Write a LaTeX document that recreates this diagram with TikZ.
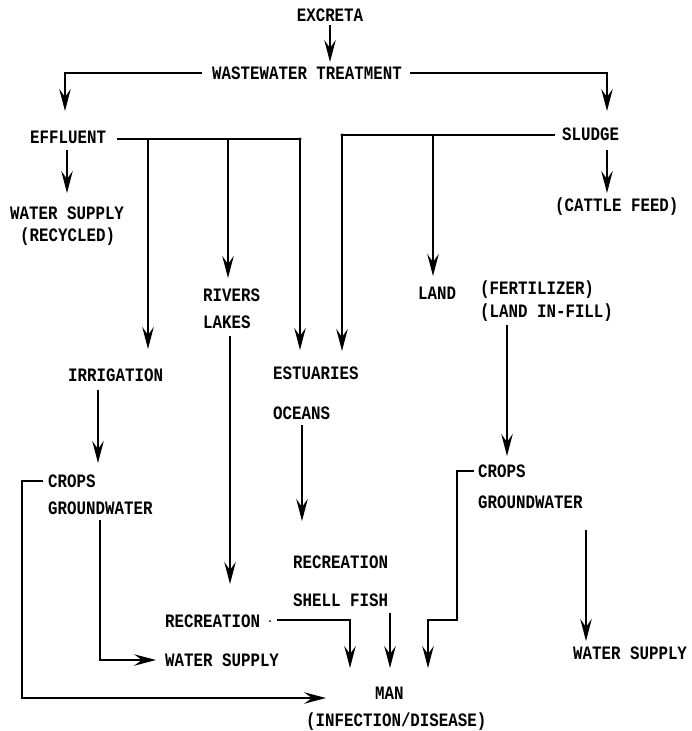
\documentclass[tikz,border=0pt]{standalone}
\usepackage{fontspec}
\setmainfont{Liberation Mono}
\usetikzlibrary{arrows.meta}
\newcommand{\tall}[1]{\scalebox{1}[1.2]{#1}}
\begin{document}
\begin{tikzpicture}[x=1pt,y=-1pt,
  lbl/.style={anchor=west,inner sep=0pt,font=\fontsize{15.8}{18}\selectfont\bfseries},
  ln/.style={line width=1.4pt},
  ar/.style={line width=1.4pt,-{Stealth[length=22pt,width=11.5pt,inset=8pt]}}]
\useasboundingbox (0,0) rectangle (692,731);
% nodes
\node[lbl,anchor=center] (excreta) at (330,15) {\tall{EXCRETA}};
\node[lbl] (wwt) at (212,73) {\tall{WASTEWATER TREATMENT}};
\node[lbl] (effluent) at (30,137) {\tall{EFFLUENT}};
\node[lbl] (sludge) at (562,134) {\tall{SLUDGE}};
\node[lbl] (wsr) at (10,213) {\tall{WATER SUPPLY}};
\node[lbl] (recyc) at (20,237) {\tall{(RECYCLED)}};
\node[lbl] (cattle) at (555,207) {\tall{(CATTLE FEED)}};
\node[lbl] (rivers) at (203,295) {\tall{RIVERS}};
\node[lbl] (lakes) at (203,322) {\tall{LAKES}};
\node[lbl] (land) at (418,293) {\tall{LAND}};
\node[lbl] (fert) at (480,290) {\tall{(FERTILIZER)}};
\node[lbl] (infill) at (480,313) {\tall{(LAND IN-FILL)}};
\node[lbl] (irrig) at (68,375) {\tall{IRRIGATION}};
\node[lbl] (estu) at (273,373) {\tall{ESTUARIES}};
\node[lbl] (oceans) at (273,413) {\tall{OCEANS}};
\node[lbl] (cropsL) at (48,481) {\tall{CROPS}};
\node[lbl] (gwL) at (48,508) {\tall{GROUNDWATER}};
\node[lbl] (recM) at (293,562) {\tall{RECREATION}};
\node[lbl] (shell) at (293,600) {\tall{SHELL FISH}};
\node[lbl] (recL) at (165,621) {\tall{RECREATION}};
\node[lbl] (wsL) at (165,660) {\tall{WATER SUPPLY}};
\node[lbl] (cropsR) at (478,471) {\tall{CROPS}};
\node[lbl] (gwR) at (478,502) {\tall{GROUNDWATER}};
\node[lbl] (wsR) at (573,653) {\tall{WATER SUPPLY}};
\node[lbl] (man) at (375,693) {\tall{MAN}};
\node[lbl] (infect) at (306,722) {\tall{(INFECTION/DISEASE)}};
% junction coordinates
\coordinate (eL) at (117,139);
\coordinate (e1) at (148,139);
\coordinate (e2) at (228,139);
\coordinate (e3) at (300,139);
\coordinate (s0) at (555,135);
\coordinate (s1) at (342,135);
\coordinate (s2) at (433,135);
% connectors
\draw[ar] (330,25) -- (330,62);
\draw[ar] (wwt.west) ++(-10,0) -| (65,111);
\draw[ar] (wwt.east) ++(8,0) -| (607,111);
\draw[ln] (eL) -- (e3);
\fill (e3) circle (1.6pt);
\draw[ar] (67,150) -- (67,193);
\draw[ar] (e1) -- (148,349);
\draw[ar] (e2) -- (228,278);
\draw[ar] (e3) -- (300,350);
\draw[ln] (s0) -- (s1);
\fill (s1) circle (1.6pt);
\draw[ar] (s1) -- (342,351);
\draw[ar] (s2) -- (433,276);
\draw[ar] (607,150) -- (607,193);
\draw[ar] (230,336) -- (230,584);
\draw[ar] (98,390) -- (98,463);
\draw[ar] (302,425) -- (302,521);
\draw[ar] (507,325) -- (507,456);
\draw[ar] (43,481) -- (22,481) -- (22,698) -- (326,698);
\draw[ar] (100,520) -- (100,660) -- (156,660);
\fill (270,621) circle (1pt);
\draw[ar] (277,620) -- (350,620) -- (350,668);
\draw[ar] (390,613) -- (390,668);
\draw[ar] (474,471) -- (457,471) -- (457,620) -- (428,620) -- (428,668);
\draw[ar] (586,530) -- (586,641);
\end{tikzpicture}
\end{document}
